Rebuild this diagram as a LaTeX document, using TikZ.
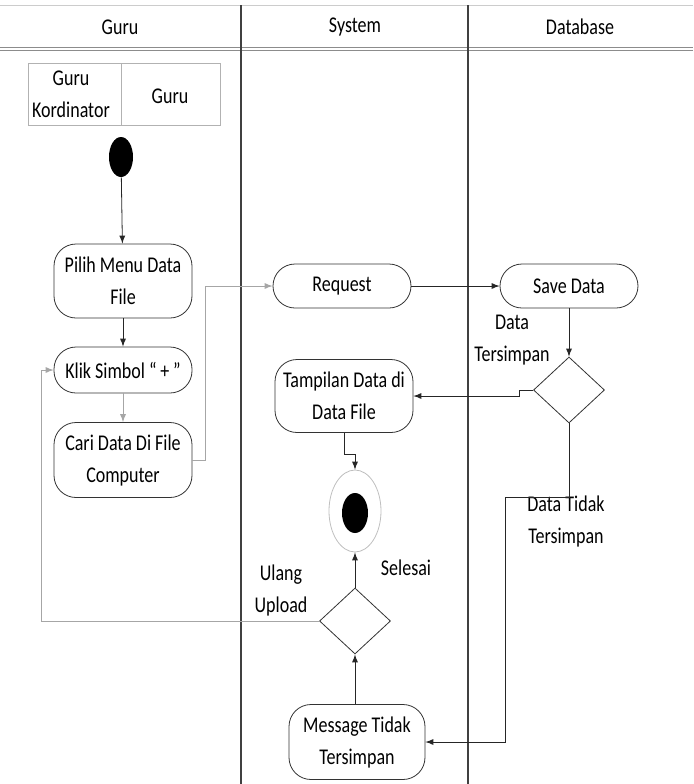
\documentclass[tikz,border=0pt]{standalone}
\usepackage{fontspec}
\setmainfont{Carlito}[FakeStretch=0.8]
\usetikzlibrary{shapes.geometric}

\begin{document}
\begin{tikzpicture}[x=0.5pt, y=-0.5pt,
	font=\fontsize{11.25}{16}\selectfont,
	act/.style={draw=black!80, rounded corners=11pt, minimum width=69pt, align=center, inner sep=1pt},
	dec/.style={draw=black!80, diamond, minimum width=35.5pt, minimum height=33pt, inner sep=0pt},
	flow/.style={draw=black!85, ->, >=latex},
	soft/.style={draw=black!35, ->, >=latex},
	lane/.style={draw=black!75, line width=0.6pt},
	txt/.style={align=center, inner sep=0pt}]
			\useasboundingbox (0,0) rectangle (693,784);
			% lanes
			\draw[black!20] (0,5) -- (693,5);
			\draw[black!45] (0,47) -- (693,47);
			\draw[black!45] (0,50) -- (693,50);
			\draw[lane] (241,5) -- (241,784);
			\draw[lane] (468,5) -- (468,784);
			\node (hguru) at (120,27) {Guru};
			\node (hsystem) at (355,27) {System};
			\node (hdb) at (580,27) {Database};
			% actor box
			\draw[black!30] (28,63) rectangle (220,125);
			\draw[black!30] (121,63) -- (121,125);
			\node[txt] (kord) at (71,94) {Guru\\Kordinator};
			\node[txt] (guru) at (170,96) {Guru};
			% activities
			\node[ellipse, fill=black, minimum width=12pt, minimum height=20pt, inner sep=0pt] (start) at (121,157) {};
			\node[act, minimum height=37pt] (pilih) at (123,281) {Pilih Menu Data\\File};
			\node[act, minimum height=23pt] (klik) at (123,370) {Klik Simbol ``\,+\,''};
			\node[act, minimum height=37.5pt] (cari) at (123,460) {Cari Data Di File\\Computer};
			\node[act, minimum height=22pt] (request) at (342,286) {Request};
			\node[act, minimum height=22pt] (save) at (569,286) {Save Data};
			\node[dec] (cek1) at (569,390) {};
			\node[act, minimum height=36.5pt] (tampil) at (344,396) {Tampilan Data di\\Data File};
			\node[ellipse, draw=black!25, minimum width=26pt, minimum height=41pt, inner sep=0pt] (selesai) at (355,511) {};
			\node[ellipse, fill=black, minimum width=13pt, minimum height=20pt, inner sep=0pt] (dot) at (355,513) {};
			\node[dec] (cek2) at (355,621) {};
			\node[act, minimum width=68pt, minimum height=37.5pt] (pesan) at (357,742) {Message Tidak\\Tersimpan};
			\coordinate (tidak) at (505,497);
			% labels
			\node[txt] (lbsimpan) at (512,340) {Data\\Tersimpan};
			\node[txt] (lbtidak) at (566,521) {Data Tidak\\Tersimpan};
			\node[txt] (lbselesai) at (406,568) {Selesai};
			\node[txt] (lbulang) at (281,590) {Ulang\\Upload};
			% flows
			\draw[flow] (start) -- (pilih);
			\draw[flow] (pilih) -- (klik);
			\draw[soft] (klik) -- (cari);
			\draw[soft] (cari.east) -- ++(13,0) |- (request.west);
			\draw[flow] (request) -- (save);
			\draw[flow] (save) -- (cek1);
			\draw[flow] (cek1.west) -- ++(-14,0) |- (tampil.east);
			\draw[flow] (tampil.south) -- ++(0,21) -| (selesai.north);
			\draw[flow] (cek1.south) |- (tidak) |- (pesan.east);
			\draw[flow] (pesan.north -| cek2) -- (cek2.south);
			\draw[flow] (cek2) -- (selesai);
			\draw[soft] (cek2.west) -- (41,621) |- (klik.west);
		\end{tikzpicture}
\end{document}
